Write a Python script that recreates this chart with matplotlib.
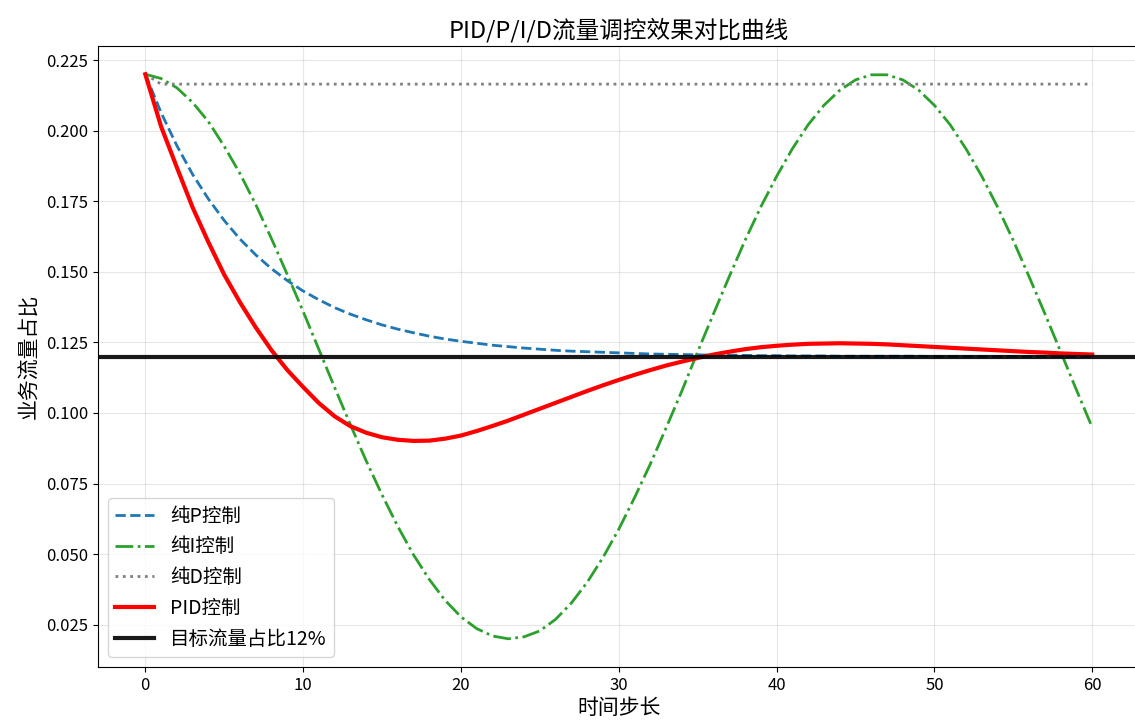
import matplotlib
matplotlib.use("Agg")
import matplotlib.pyplot as plt

plt.rcParams['font.family'] = ['Noto Sans CJK SC', 'DejaVu Sans']
plt.rcParams['axes.unicode_minus'] = False

steps = list(range(61))

# 纯P控制
p_only = [0.2200, 0.2064, 0.1947, 0.1845, 0.1758, 0.1682, 0.1616, 0.1560, 0.1511, 0.1469,
          0.1432, 0.1401, 0.1373, 0.1350, 0.1330, 0.1312, 0.1297, 0.1284, 0.1272, 0.1262,
          0.1254, 0.1247, 0.1240, 0.1235, 0.1230, 0.1226, 0.1222, 0.1219, 0.1217, 0.1215,
          0.1213, 0.1211, 0.1209, 0.1208, 0.1207, 0.1206, 0.1205, 0.1205, 0.1204, 0.1203,
          0.1203, 0.1202, 0.1202, 0.1202, 0.1201, 0.1201, 0.1201, 0.1201, 0.1201, 0.1201,
          0.1200, 0.1200, 0.1200, 0.1200, 0.1200, 0.1200, 0.1200, 0.1200, 0.1200, 0.1200,
          0.1200]

# 纯I控制
i_only = [0.2200, 0.2185, 0.2152, 0.2100, 0.2032, 0.1945, 0.1848, 0.1738, 0.1617, 0.1490,
          0.1360, 0.1225, 0.1090, 0.0958, 0.0830, 0.0710, 0.0598, 0.0497, 0.0410, 0.0336,
          0.0278, 0.0236, 0.0210, 0.0200, 0.0207, 0.0228, 0.0269, 0.0327, 0.0400, 0.0488,
          0.0588, 0.0700, 0.0819, 0.0947, 0.1078, 0.1217, 0.1351, 0.1483, 0.1611, 0.1730,
          0.1838, 0.1936, 0.2021, 0.2090, 0.2143, 0.2180, 0.2198, 0.2198, 0.2180, 0.2144,
          0.2090, 0.2021, 0.1936, 0.1839, 0.1730, 0.1611, 0.1483, 0.1352, 0.1217, 0.1082,
          0.0949]

# 纯D控制
d_only = [0.2200] + [0.2165] * 60

# PID控制
pid = [0.2200, 0.2015, 0.1870, 0.1728, 0.1605, 0.1490, 0.1392, 0.1303, 0.1222, 0.1152,
       0.1092, 0.1035, 0.0988, 0.0953, 0.0930, 0.0914, 0.0905, 0.0901, 0.0902, 0.0909,
       0.0920, 0.0936, 0.0954, 0.0973, 0.0994, 0.1015, 0.1036, 0.1057, 0.1078, 0.1098,
       0.1117, 0.1135, 0.1152, 0.1168, 0.1182, 0.1195, 0.1207, 0.1217, 0.1226, 0.1233,
       0.1238, 0.1242, 0.1245, 0.1246, 0.1247, 0.1246, 0.1245, 0.1243, 0.1240, 0.1237,
       0.1234, 0.1231, 0.1228, 0.1225, 0.1222, 0.1219, 0.1216, 0.1214, 0.1211, 0.1209,
       0.1207]

target = 0.12

fig, ax = plt.subplots(figsize=(11.35, 7.27), dpi=100)
# right edge of the axes falls just outside the picture, as in the reference
fig.subplots_adjust(left=0.0863, right=1.004, top=0.9367, bottom=0.0825)

ax.plot(steps, p_only, '--', color='#1f77b4', linewidth=2, label='纯P控制')
ax.plot(steps, i_only, '-.', color='#2ca02c', linewidth=2, label='纯I控制')
ax.plot(steps, d_only, ':', color='gray', linewidth=2, label='纯D控制')
ax.plot(steps, pid, '-', color='red', linewidth=3, label='PID控制')
ax.axhline(target, color='black', linewidth=3, alpha=0.9, label='目标流量占比12%')

ax.set_title('PID/P/I/D流量调控效果对比曲线', fontsize=17)
ax.set_xlabel('时间步长', fontsize=15, labelpad=2)
ax.set_ylabel('业务流量占比', fontsize=15)
ax.tick_params(labelsize=12)
ax.grid(True, alpha=0.3)
ax.legend(loc='lower left', fontsize=14)

fig.savefig('out.png')
